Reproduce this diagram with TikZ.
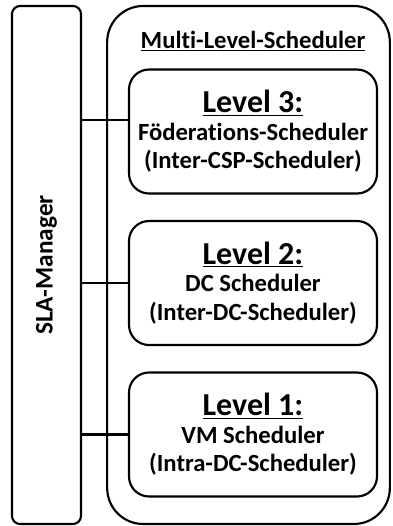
\documentclass[tikz,border=0pt]{standalone}
\usepackage{fontspec}
\setmainfont[Ligatures=NoCommon]{Carlito}
\usetikzlibrary{positioning}

\tikzset{
  box/.style={draw, line width=1.6pt, rounded corners=15pt, align=center, font=\bfseries\fontsize{18.5}{21.5}\selectfont},
  lvl/.style={box, minimum width=186pt, minimum height=93pt}
}
\newcommand{\lvlhead}[1]{{\fontsize{24}{26}\selectfont\underline{#1}}\\[-1pt]}

\begin{document}
\begin{tikzpicture}[x=0.75pt,y=0.75pt,yscale=-1,xscale=1]
\useasboundingbox (0,0) rectangle (393,526);

% SLA manager
\node [box, rounded corners=6pt, minimum width=51.75pt, minimum height=388.5pt] (sla) at (46.5,265) {};
\node [rotate=90, font=\bfseries\fontsize{19}{22}\selectfont] (slatext) at (sla.center) {SLA-Manager};

% outer scheduler frame
\node [box, rounded corners=27pt, minimum width=212pt, minimum height=388.5pt] (mls) at (248.5,265) {};
\node [font=\bfseries\fontsize{18.5}{22}\selectfont] (mlstitle) at (253,41) {\underline{Multi-Level-Scheduler}};

% levels
\node [lvl] (l3) at (253,131.5) {\lvlhead{Level 3:}Föderations-Scheduler\\(Inter-CSP-Scheduler)};
\node [lvl] (l2) at (253,283) {\lvlhead{Level 2:}DC Scheduler\\(Inter-DC-Scheduler)};
\node [lvl] (l1) at (253,434.5) {\lvlhead{Level 1:}VM Scheduler\\(Intra-DC-Scheduler)};

% connections
\draw [line width=1.6pt] (sla.east |- 0,120) -- (l3.west |- 0,120);
\draw [line width=1.6pt] (sla.east |- l2.west) -- (l2.west);
\draw [line width=1.6pt] (sla.east |- l1.west) -- (l1.west);

\end{tikzpicture}
\end{document}
